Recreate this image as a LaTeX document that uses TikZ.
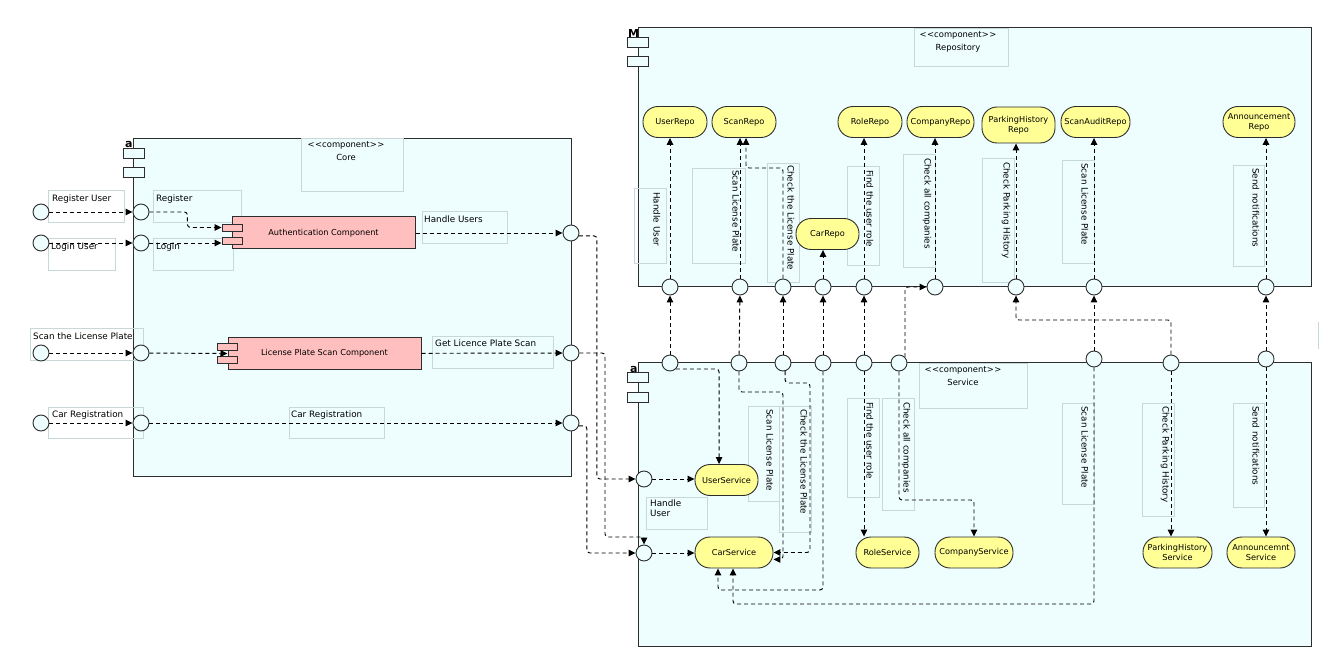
\documentclass[tikz,border=0pt]{standalone}
\usepackage{fontspec}
\setmainfont{DejaVu Sans}
\usepackage{xcolor}
\usetikzlibrary{arrows.meta, positioning}
\definecolor{boxfill}{RGB}{238,254,254}
\definecolor{compfill}{RGB}{255,191,191}
\definecolor{pillfill}{RGB}{255,255,150}
\definecolor{labline}{RGB}{200,216,216}
\definecolor{edgegray}{RGB}{45,45,45}

\begin{document}
\begin{tikzpicture}[x=1pt, y=-1pt, >={Triangle[length=7pt, width=6.5pt]},
  font=\fontsize{8.8}{10}\selectfont,
  cbox/.style={draw=edgegray, fill=boxfill, line width=1.2pt, inner sep=0pt},
  iconbox/.style={draw=edgegray, fill=boxfill, line width=1pt},
  tag/.style={font=\bfseries\fontsize{11}{11}\selectfont, inner sep=0pt},
  stereo/.style={anchor=north, align=center, inner sep=0pt, font=\fontsize{8.4}{13}\selectfont},
  port/.style={circle, draw=edgegray, fill=boxfill, line width=0.9pt, minimum size=16pt, inner sep=0pt},
  comp/.style={draw=edgegray, fill=compfill, line width=1pt, inner sep=0pt, font=\fontsize{8.2}{10}\selectfont},
  lug/.style={draw=edgegray, fill=compfill, line width=0.9pt, minimum width=20pt, minimum height=7pt, inner sep=0pt},
  pill/.style={draw=edgegray, fill=pillfill, rounded corners=15pt, line width=0.9pt, minimum height=31pt,
    align=center, inner sep=1pt, font=\fontsize{8.2}{10}\selectfont},
  lbox/.style={draw=labline, line width=0.8pt},
  htxt/.style={anchor=base west, inner sep=0pt},
  vtxt/.style={rotate=-90, anchor=west, inner sep=0pt},
  dep/.style={->, draw=black, dashed, dash pattern=on 4pt off 3pt, line width=0.95pt, rounded corners=3pt}]

  \useasboundingbox (0,0) rectangle (1320,660);

  % containers
  \node[cbox, anchor=north west, minimum width=438pt, minimum height=338pt] (core) at (133,138) {};
  \node[cbox, anchor=north west, minimum width=673pt, minimum height=259pt] (repo) at (638,27) {};
  \node[cbox, anchor=north west, minimum width=673pt, minimum height=284pt] (srv) at (638,362) {};

  % component icons
  \draw[iconbox] (123,149) rectangle ++(21,10);
  \draw[iconbox] (123,168) rectangle ++(21,10);
  \draw[iconbox] (627,38) rectangle ++(21,10);
  \draw[iconbox] (627,57) rectangle ++(21,10);
  \draw[iconbox] (627,372) rectangle ++(21,10);
  \draw[iconbox] (627,392) rectangle ++(21,10);
  \node[tag, anchor=base west] (coreTag) at (125,148) {a};
  \node[tag, anchor=base west] (repoTag) at (628,38) {M};
  \node[tag, anchor=base west] (srvTag) at (630,372) {a};

  % stereotypes
  \draw[lbox] (301,138) rectangle (403,191);
  \node[stereo] (coreName) at (346,141) {<\kern.6pt<component>\kern.6pt>\\Core};
  \draw[lbox] (914,28) rectangle (1008,66);
  \node[stereo] (repoName) at (958,31) {<\kern.6pt<component>\kern.6pt>\\Repository};
  \draw[lbox] (919,363) rectangle (1027,408);
  \node[stereo] (srvName) at (963,366) {<\kern.6pt<component>\kern.6pt>\\Service};

  % core labels
  \draw[lbox] (48,190) rectangle (124,222);
  \node[htxt] (tRegUser) at (52,202) {Register User};
  \draw[lbox] (48,238) rectangle (115,270);
  \node[htxt] (tLoginUser) at (51,250) {Login User};
  \draw[lbox] (153,190) rectangle (241,222);
  \node[htxt] (tReg) at (156,202) {Register};
  \draw[lbox] (153,238) rectangle (233,270);
  \node[htxt] (tLogin) at (156,250) {Login};
  \draw[lbox] (422,211) rectangle (507,243);
  \node[htxt] (tHandleUsers) at (424,223) {Handle Users};
  \draw[lbox] (30,328) rectangle (143,360);
  \node[htxt] (tScanPlate) at (33,339) {Scan the License Plate};
  \draw[lbox] (432,336) rectangle (553,368);
  \node[htxt] (tGetScan) at (435,347) {Get Licence Plate Scan};
  \draw[lbox] (48,407) rectangle (143,438);
  \node[htxt] (tCarRegIn) at (52,417) {Car Registration};
  \draw[lbox] (289,407) rectangle (384,438);
  \node[htxt] (tCarRegMid) at (291,417) {Car Registration};

  % repository labels
  \draw[lbox] (634,188) rectangle (666,263);
  \node[vtxt] (rHandle) at (657,192) {Handle User};
  \draw[lbox] (692,168) rectangle (745,263);
  \node[vtxt] (rScan) at (736,170) {Scan License Plate};
  \draw[lbox] (767,163) rectangle (799,282);
  \node[vtxt] (rCheck) at (791,165) {Check the License Plate};
  \draw[lbox] (847,166) rectangle (879,265);
  \node[vtxt] (rRole) at (870,170) {Find the user role};
  \draw[lbox] (903,154) rectangle (935,267);
  \node[vtxt] (rComp) at (927,158) {Check all companies};
  \draw[lbox] (982,158) rectangle (1014,282);
  \node[vtxt] (rPark) at (1006,162) {Check Parking History};
  \draw[lbox] (1062,160) rectangle (1094,263);
  \node[vtxt] (rAudit) at (1085,163) {Scan License Plate};
  \draw[lbox] (1233,165) rectangle (1264,266);
  \node[vtxt] (rAnn) at (1256,168) {Send notifications};

  % service labels
  \draw[lbox] (646,497) rectangle (707,529);
  \node[htxt, align=left, anchor=north west] (sHandle) at (650,500) {Handle\\User};
  \draw[lbox] (748,406) rectangle (779,501);
  \node[vtxt] (sScan) at (770,409) {Scan License Plate};
  \draw[lbox] (779,406) rectangle (811,532);
  \node[vtxt] (sCheck) at (804,409) {Check the License Plate};
  \draw[lbox] (847,398) rectangle (879,497);
  \node[vtxt] (sRole) at (870,402) {Find the user role};
  \draw[lbox] (882,398) rectangle (914,510);
  \node[vtxt] (sComp) at (906,402) {Check all companies};
  \draw[lbox] (1062,403) rectangle (1094,504);
  \node[vtxt] (sAudit) at (1085,406) {Scan License Plate};
  \draw[lbox] (1142,403) rectangle (1174,516);
  \node[vtxt] (sPark) at (1165,406) {Check Parking History};
  \draw[lbox] (1233,403) rectangle (1264,507);
  \node[vtxt] (sAnn) at (1256,406) {Send notifications};
  \draw[lbox] (1318,322) -- (1318,349);

  % core components
  \node[comp, minimum width=183pt, minimum height=32pt] (auth) at (323.5,233) {Authentication Component};
  \node[lug] (authA) at (232,227.5) {};
  \node[lug] (authB) at (232,240.5) {};
  \node[comp, minimum width=193pt, minimum height=31pt] (plate) at (324.5,353.5) {License Plate Scan Component};
  \node[lug] (plateA) at (227,346.5) {};
  \node[lug] (plateB) at (227,360) {};

  % repositories
  \node[pill, minimum width=64pt] (userRepo) at (675,122) {UserRepo};
  \node[pill, minimum width=64pt] (scanRepo) at (744,122) {ScanRepo};
  \node[pill, minimum width=64pt] (roleRepo) at (870,122) {RoleRepo};
  \node[pill, minimum width=67pt] (compRepo) at (940.5,122) {CompanyRepo};
  \node[pill, minimum width=73pt, minimum height=36pt] (parkRepo) at (1018.5,125) {ParkingHistory\\Repo};
  \node[pill, minimum width=69pt] (auditRepo) at (1095.5,122) {ScanAuditRepo};
  \node[pill, minimum width=72pt] (annRepo) at (1259,122) {Announcement\\Repo};
  \node[pill, minimum width=63pt] (carRepo) at (827.5,234) {CarRepo};

  % services
  \node[pill, minimum width=63pt] (usrSvc) at (726.5,480) {UserService};
  \node[pill, minimum width=78pt] (carSvc) at (734,552.5) {CarService};
  \node[pill, minimum width=63pt] (roleSvc) at (887.5,552.5) {RoleService};
  \node[pill, minimum width=78pt] (compSvc) at (974,552.5) {CompanyService};
  \node[pill, minimum width=69pt] (parkSvc) at (1177.5,552.5) {ParkingHistory\\Service};
  \node[pill, minimum width=68pt] (annSvc) at (1261,552.5) {Announcemnt\\Service};

  % ports
  \node[port] (xRegUser) at (41,212) {};
  \node[port] (xLoginUser) at (41,243) {};
  \node[port] (xScan) at (41,353) {};
  \node[port] (xCarReg) at (41,423) {};
  \node[port] (cRegPort) at (141,212) {};
  \node[port] (cLoginPort) at (141,243) {};
  \node[port] (cScanPort) at (141,353) {};
  \node[port] (cCarRegPort) at (141,423) {};
  \node[port] (cHandlePort) at (571,233) {};
  \node[port] (cGetPort) at (571,353) {};
  \node[port] (cCarRegOut) at (571,423) {};
  \node[port] (sUserPort) at (644,479) {};
  \node[port] (sCarPort) at (644,553) {};
  \node[port] (bUser) at (670,287) {};
  \node[port] (bScan) at (740,287) {};
  \node[port] (bCheck) at (783,287) {};
  \node[port] (bCar) at (823,287) {};
  \node[port] (bRole) at (864,287) {};
  \node[port] (bComp) at (935,287) {};
  \node[port] (bPark) at (1016,287) {};
  \node[port] (bAudit) at (1094,287) {};
  \node[port] (bAnn) at (1266,287) {};
  \node[port] (tUser) at (670,363) {};
  \node[port] (tScan) at (739,363) {};
  \node[port] (tCheck) at (783,363) {};
  \node[port] (tCar) at (823,363) {};
  \node[port] (tRole) at (864,363) {};
  \node[port] (tComp) at (899,363) {};
  \node[port] (tAudit) at (1094,359) {};
  \node[port] (tPark) at (1171,363) {};
  \node[port] (tAnn) at (1266,359) {};

  % core wiring
  \draw[dep] (xRegUser) -- (cRegPort);
  \draw[dep] (xLoginUser) -- (cLoginPort);
  \draw[dep] (xScan) -- (cScanPort);
  \draw[dep] (xCarReg) -- (cCarRegPort);
  \draw[dep] (cRegPort.east) -- ++(38,0) |- (authA.west);
  \draw[dep] (cLoginPort.east) -- (cLoginPort.east -| authB.west);
  \draw[dep] (cScanPort) -- (plate.west);
  \draw[dep] (auth) -- (cHandlePort);
  \draw[dep] (plate) -- (cGetPort);
  \draw[dep] (cCarRegPort) -- (cCarRegOut);

  % core to service
  \coordinate (getBend) at (605,537);
  \draw[dep] (cHandlePort.-20) -- ++(18,0) |- (sUserPort);
  \draw[dep] (cGetPort.east) -| (getBend) -| (sCarPort.north);
  \draw[dep] (cCarRegOut.-20) -- ++(8,0) |- (sCarPort);
  \draw[dep] (sUserPort.east) -- (sUserPort.east -| usrSvc.west);
  \draw[dep] (sCarPort.east) -- (sCarPort.east -| carSvc.west);

  % service to repository
  \coordinate (parkBend) at (1016,320);
  \draw[dep] (tUser) -- (bUser);
  \draw[dep] (tScan) -- (bScan);
  \draw[dep] (tCheck) -- (bCheck);
  \draw[dep] (tCar) -- (bCar);
  \draw[dep] (tRole) -- (bRole);
  \draw[dep] (tComp.north east) |- (bComp);
  \draw[dep] (tAudit) -- (bAudit);
  \draw[dep] (tPark.north) |- (parkBend) -- (bPark);
  \draw[dep] (tAnn) -- (bAnn);

  % inside repository
  \coordinate (chkBend) at (746,168);
  \draw[dep] (bUser.north) -- (bUser.north |- userRepo.south);
  \draw[dep] (bScan.north) -- (bScan.north |- scanRepo.south);
  \draw[dep] (bCheck.north) |- (chkBend) -- (chkBend |- scanRepo.south);
  \draw[dep] (bCar.north) -- (bCar.north |- carRepo.south);
  \draw[dep] (bRole.north) -- (bRole.north |- roleRepo.south);
  \draw[dep] (bComp.north) -- (bComp.north |- compRepo.south);
  \draw[dep] (bPark.north) -- (bPark.north |- parkRepo.south);
  \draw[dep] (bAudit.north) -- (bAudit.north |- auditRepo.south);
  \draw[dep] (bAnn.north) -- (bAnn.north |- annRepo.south);

  % inside service
  \coordinate (scanBend) at (783,392);
  \coordinate (chkSvcBend) at (810,383);
  \coordinate (carLoop) at (718,590);
  \coordinate (auditLoop) at (733,604);
  \coordinate (compBend) at (974,500);
  \draw[dep] (tUser.-45) -| (usrSvc.115);
  \draw[dep] (tScan.south) |- (scanBend) |- (carSvc.-10);
  \draw[dep] (tCheck.-75) |- (chkSvcBend) |- (carSvc.east);
  \draw[dep] (tCar.south) |- (carLoop) -- (carLoop |- carSvc.south);
  \draw[dep] (tAudit.south) |- (auditLoop) -- (auditLoop |- carSvc.south);
  \draw[dep] (tRole.south) -- (tRole.south |- roleSvc.north);
  \draw[dep] (tComp.south) |- (compBend) -- (compSvc.north);
  \draw[dep] (tPark.south) -- (tPark.south |- parkSvc.north);
  \draw[dep] (tAnn.south) -- (tAnn.south |- annSvc.north);
\end{tikzpicture}
\end{document}
